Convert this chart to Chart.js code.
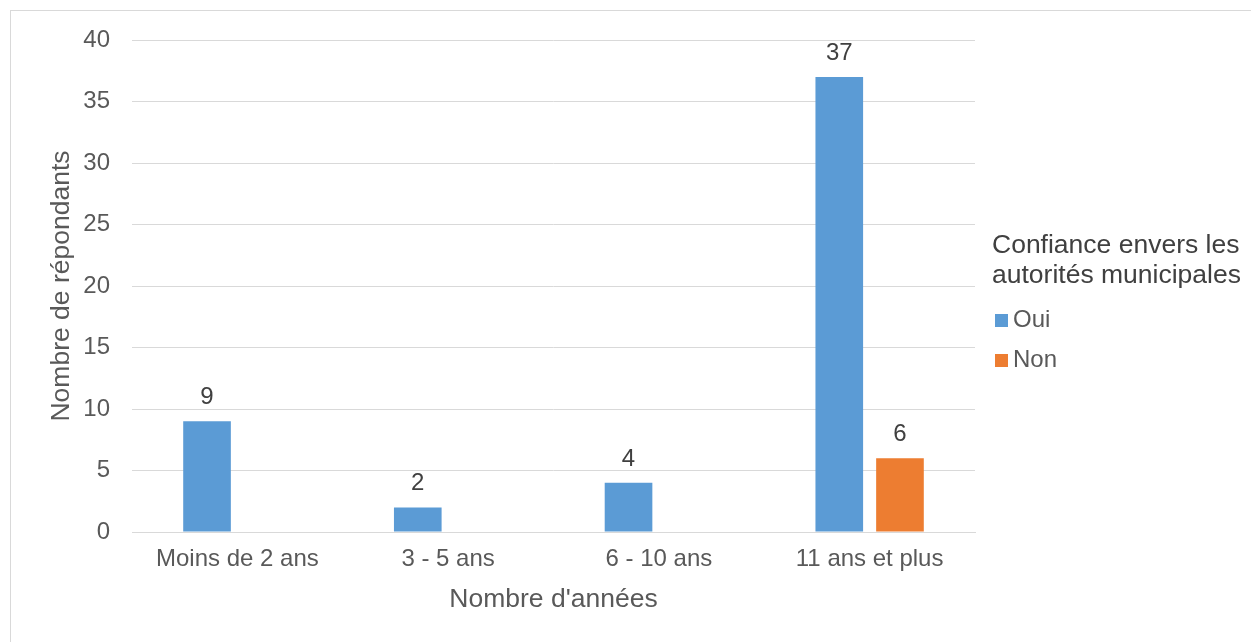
<!DOCTYPE html>
<html>
<head>
<meta charset="utf-8">
<script src="https://cdn.jsdelivr.net/npm/chart.js@4/dist/chart.umd.min.js"></script>
<style>
  html, body { margin: 0; padding: 0; background: #ffffff; overflow: hidden; }
  #wrap { position: relative; width: 1251px; height: 642px; }
  canvas { display: block; }
</style>
</head>
<body>
<div id="wrap"><canvas id="c" width="1251" height="642"></canvas></div>
<script>
const categories = ["Moins de 2 ans", "3 - 5 ans", "6 - 10 ans", "11 ans et plus"];
const seriesNames = ["Oui", "Non"];
const ouiValues = [9, 2, 4, 37];
const nonValues = [null, null, null, 6];
const seriesColors = ["#5B9BD5", "#ED7D31"];
const yTicks = [0, 5, 10, 15, 20, 25, 30, 35, 40];
const legendTitle = ["Confiance envers les", "autorités municipales"];
const xTitle = "Nombre d'années";
const yTitle = "Nombre de répondants";

const FONT = "'Liberation Sans', Arial, sans-serif";

const frame = {
  id: 'frame',
  beforeDraw(chart) {
    const ctx = chart.ctx;
    ctx.save();
    ctx.fillStyle = '#ffffff';
    ctx.fillRect(0, 0, chart.width, chart.height);
    ctx.strokeStyle = '#d9d9d9';
    ctx.lineWidth = 1;
    ctx.strokeRect(10.5, 10.5, 1400, 800);
    ctx.restore();
  }
};

const valueLabels = {
  id: 'valueLabels',
  afterDatasetsDraw(chart) {
    const ctx = chart.ctx;
    ctx.save();
    ctx.font = '24px ' + FONT;
    ctx.fillStyle = '#404040';
    ctx.textAlign = 'center';
    ctx.textBaseline = 'alphabetic';
    chart.data.datasets.forEach((ds, i) => {
      const meta = chart.getDatasetMeta(i);
      meta.data.forEach((bar, j) => {
        const v = ds.data[j];
        if (v === null || v === undefined) return;
        ctx.fillText(String(v), bar.x, bar.y - 17);
      });
    });
    ctx.restore();
  }
};

const sideLegend = {
  id: 'sideLegend',
  afterDraw(chart) {
    const ctx = chart.ctx;
    ctx.save();
    ctx.textAlign = 'left';
    ctx.textBaseline = 'alphabetic';
    ctx.font = '26.5px ' + FONT;
    ctx.fillStyle = '#404040';
    legendTitle.forEach((line, k) => ctx.fillText(line, 992, 253 + k * 30));
    ctx.font = '24px ' + FONT;
    chart.data.datasets.forEach((ds, i) => {
      const base = 327 + i * 40;
      ctx.fillStyle = ds.backgroundColor;
      ctx.fillRect(995, base - 13, 13, 13);
      ctx.fillStyle = '#595959';
      ctx.fillText(ds.label, 1013, base);
    });
    ctx.restore();
  }
};

new Chart(document.getElementById('c'), {
  type: 'bar',
  data: {
    labels: categories,
    datasets: [
      { label: seriesNames[0], data: ouiValues, backgroundColor: seriesColors[0] },
      { label: seriesNames[1], data: nonValues, backgroundColor: seriesColors[1] }
    ]
  },
  options: {
    responsive: false,
    animation: false,
    devicePixelRatio: 1,
    categoryPercentage: 0.576,
    barPercentage: 0.785,
    layout: { padding: { top: 40, left: 0, right: 276, bottom: 0 } },
    plugins: {
      legend: { display: false },
      tooltip: { enabled: false }
    },
    scales: {
      x: {
        grid: { display: false, drawTicks: false },
        border: { display: true, color: '#d9d9d9', width: 1 },
        ticks: { color: '#595959', font: { family: FONT, size: 24 }, padding: 13, maxRotation: 0 },
        title: { display: true, text: xTitle, color: '#595959', font: { family: FONT, size: 26.5 }, padding: { top: 0, bottom: 26 } },
        afterFit(scale) { scale.height = 110; }
      },
      y: {
        min: 0, max: 40,
        afterBuildTicks(scale) { scale.ticks = yTicks.map(v => ({ value: v })); },
        grid: { color: '#d9d9d9', lineWidth: 1, drawTicks: false },
        border: { display: false },
        ticks: { color: '#595959', font: { family: FONT, size: 24 }, padding: 22 },
        title: { display: true, text: yTitle, color: '#595959', font: { family: FONT, size: 26.5 }, padding: { top: 46, bottom: 0 } },
        afterFit(scale) { scale.width = 132; }
      }
    }
  },
  plugins: [frame, valueLabels, sideLegend]
});
</script>
</body>
</html>
